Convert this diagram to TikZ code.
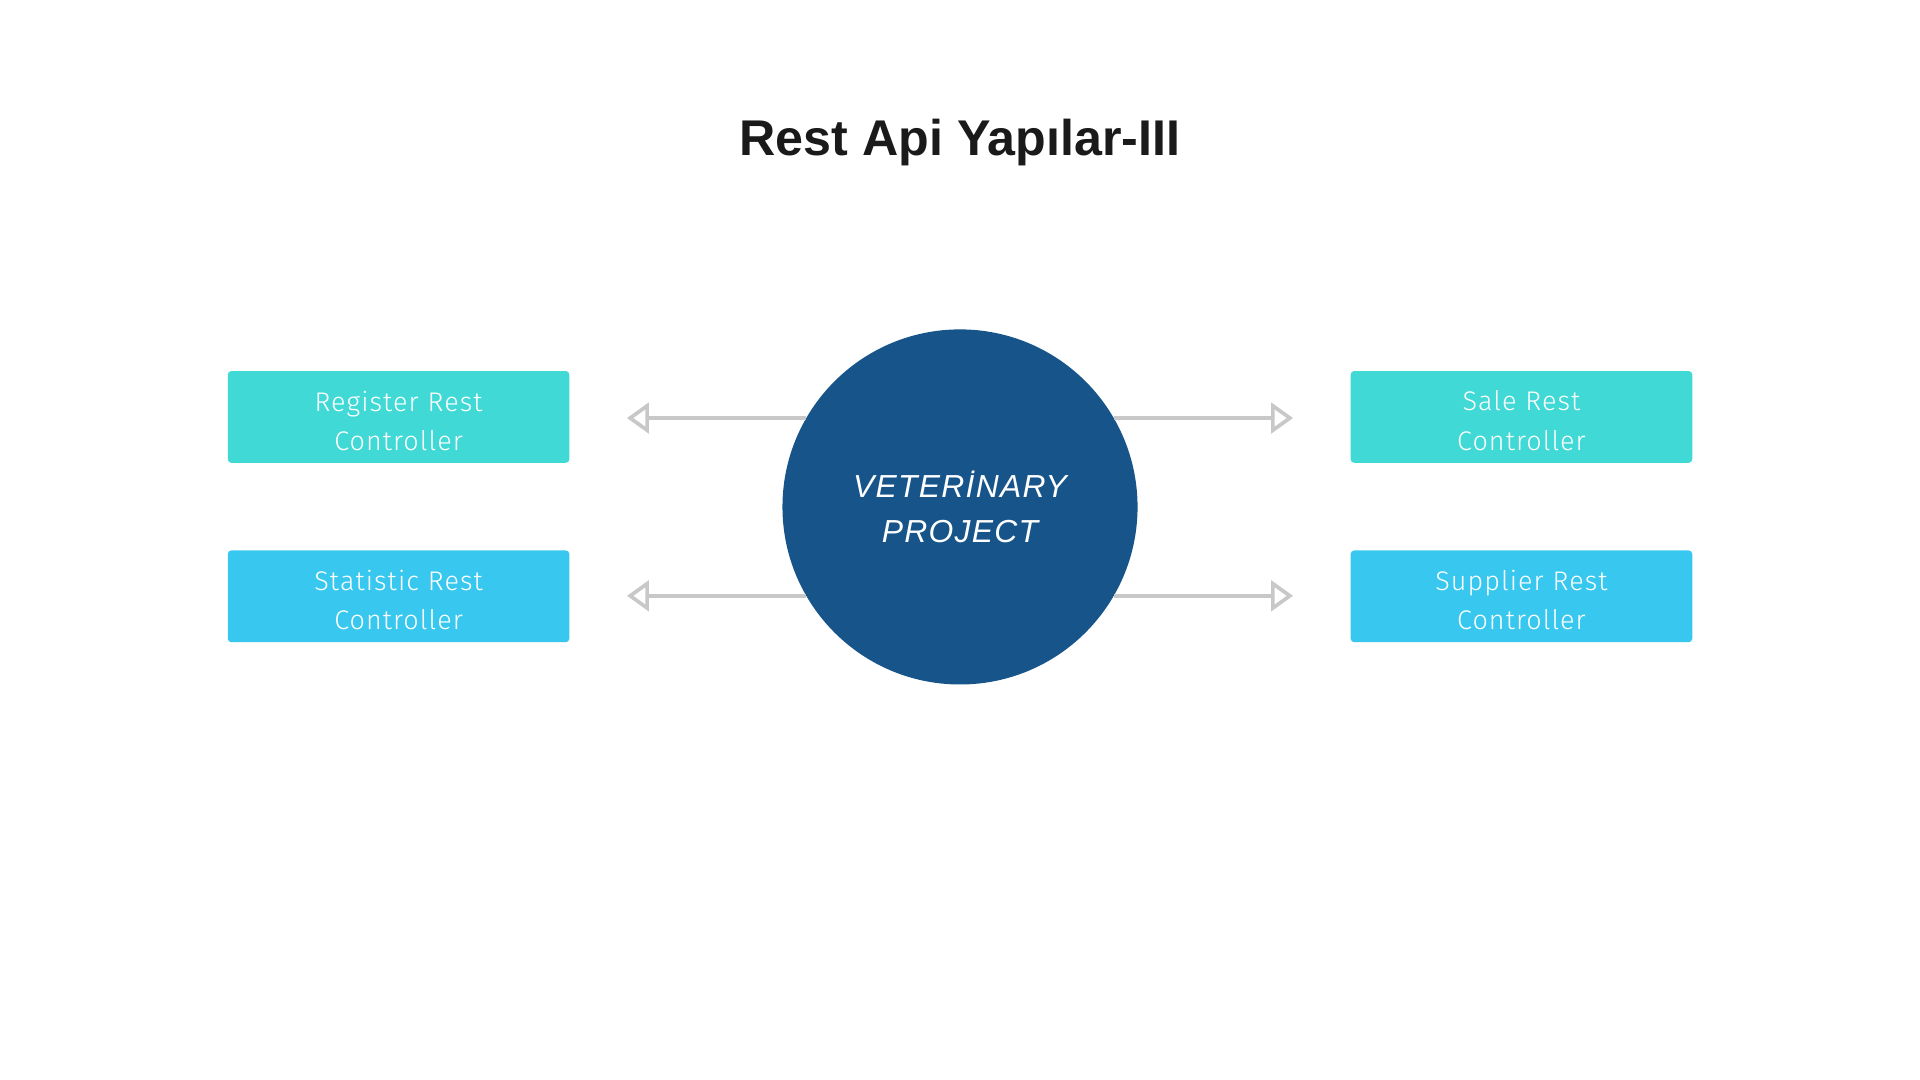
\documentclass[tikz,border=0pt]{standalone}
\usepackage{fontspec}
\setmainfont{Liberation Sans}
\newfontfamily\titlefont{Liberation Sans}
\newfontfamily\boxfont{Fira Sans Light}[LetterSpace=4]
\newfontfamily\circfont{Liberation Sans}[LetterSpace=4]
\usetikzlibrary{arrows.meta}
\definecolor{turq}{HTML}{40D9D6}
\definecolor{sky}{HTML}{38C8EF}
\definecolor{navy}{HTML}{16548A}
\definecolor{arrgray}{HTML}{C8C8C8}
\definecolor{titlegray}{HTML}{1A1A1A}
\tikzset{
  ctrlbox/.style={rounded corners=3pt, minimum width=279pt, minimum height=75pt, inner sep=0pt},
  boxtext/.style={text width=270pt, align=center, text=white, inner sep=0pt,
    font=\boxfont\fontsize{22}{32}\selectfont},
  linkarrow/.style={draw=arrgray, line width=3pt,
    -{Triangle[open, length=18pt, width=25pt, line width=3pt]}},
}
\begin{document}
\begin{tikzpicture}[x=1pt, y=-1pt]
\useasboundingbox[fill=white] (0,0) rectangle (1568,882);
\node[font=\titlefont\bfseries\fontsize{41}{48}\selectfont, text=titlegray] (title) at (784,116) {Rest Api Yapılar-III};
\node[ctrlbox, fill=turq] (reg) at (325.5,340.5) {};
\node[ctrlbox, fill=sky] (stat) at (325.5,487) {};
\node[ctrlbox, fill=turq] (sale) at (1242.5,340.5) {};
\node[ctrlbox, fill=sky] (sup) at (1242.5,487) {};
\node[boxtext] (regtxt) at ([yshift=-3pt]reg.center) {Register Rest\\Controller};
\node[boxtext] (stattxt) at ([yshift=-3pt]stat.center) {Statistic Rest\\Controller};
\node[boxtext] (saletxt) at ([yshift=-3pt]sale.center) {Sale Rest\\Controller};
\node[boxtext] (suptxt) at ([yshift=-3pt]sup.center) {Supplier Rest\\Controller};
\coordinate (tl1) at (512,341.5);
\coordinate (tl2) at (512,487);
\coordinate (tr1) at (1056,341.5);
\coordinate (tr2) at (1056,487);
\node[circle, fill=navy, minimum size=290pt, inner sep=0pt, text=white, align=center,
  font=\circfont\itshape\fontsize{26}{36}\selectfont] (vp) at (784,414) {VETERİNARY\\PROJECT};
\draw[linkarrow] (vp.150) -- (vp.150 -| tl1);
\draw[linkarrow] (vp.210) -- (vp.210 -| tl2);
\draw[linkarrow] (vp.30) -- (vp.30 -| tr1);
\draw[linkarrow] (vp.-30) -- (vp.-30 -| tr2);
\end{tikzpicture}
\end{document}
